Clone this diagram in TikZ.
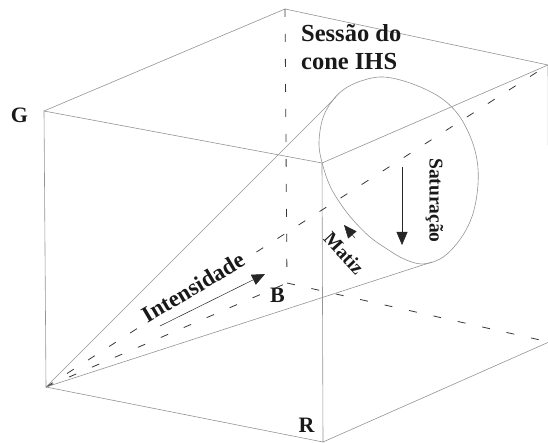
\documentclass[tikz,border=0pt]{standalone}
\usepackage{fontspec}
\setmainfont{Liberation Serif}
\usetikzlibrary{arrows.meta}
\begin{document}
\begin{tikzpicture}[x=1pt,y=-1pt,
  edge/.style={draw=black!42, line width=0.6pt},
  hidden/.style={draw=black!78, line width=0.8pt, dash pattern=on 8pt off 17pt},
  arrowline/.style={draw=black!85, line width=0.5pt, -{Triangle[width=11pt,length=13pt]}},
  lbl/.style={font=\bfseries\fontsize{22}{26}\selectfont, inner sep=0pt, text=black!90},
  axistext/.style={font=\bfseries\fontsize{19.5}{23}\selectfont, inner sep=0.5pt, text=black!90},
  titletext/.style={font=\bfseries\fontsize{24.5}{28}\selectfont, inner sep=0pt, text=black!90, anchor=base west}]
\useasboundingbox (0,0) rectangle (548,443);
\clip (0,0) rectangle (548,443);
% vertices
\coordinate (O) at (46,387);
\coordinate (G) at (44,111);
\coordinate (M) at (322,163);
\coordinate (R) at (323,442);
\coordinate (TBL) at (285,9);
\coordinate (TR) at (548,65);
\coordinate (BR) at (549,342);
\coordinate (B) at (287,283);
\coordinate (U) at (336,97);
\coordinate (L) at (432,262);
% visible cube edges
\draw[edge] (O) -- (G) -- (M) -- (R) -- cycle;
\draw[edge] (G) -- (TBL) -- (TR) -- (M);
\draw[edge] (R) -- (BR) -- (TR);
% hidden edges and main diagonal
\draw[hidden] (TBL) -- (B);
\draw[hidden] (O) -- (B);
\draw[hidden] (B) -- (BR);
\draw[hidden] (O) -- (TR);
% cone
\draw[edge] (O) -- (U);
\draw[edge] (O) -- (L);
\draw[edge] plot[smooth cycle, tension=0.6] coordinates {
  (383,77) (410,83) (438,96) (457,113) (470,136) (477,160) (478,184)
  (474,210) (466,230) (454,247) (440,259) (422,264) (404,259) (387,249)
  (370,237) (353,220) (340,203) (330,186) (323,166) (319,145) (322,121)
  (330,104) (343,90) (361,81)};
% arrows
\coordinate (i1) at (160,326);
\coordinate (i2) at (265,274);
\draw[arrowline] (i1) -- (i2);
\coordinate (s1) at (402,167);
\coordinate (s2) at (402,245);
\draw[arrowline] (s1) -- (s2);
\coordinate (m1) at (355,238);
\coordinate (m2) at (344,225);
\draw[arrowline] (m1) -- (m2);
% texts
\node[titletext] (t1) at (301,41.5) {Sessão do};
\node[titletext] (t2) at (301,70) {cone IHS};
\node[axistext, font=\bfseries\fontsize{23}{26}\selectfont, rotate=30.6, anchor=base, fill=white] (int) at (197,294) {Intensidade};
\node[axistext, rotate=-47] (mat) at (344,253) {Matiz};
\node[axistext, rotate=-90] (sat) at (434.5,200.5) {Saturação};
\node[lbl] (lG) at (19.5,115.5) {G};
\node[lbl] (lB) at (277.5,295) {B};
\node[lbl] (lR) at (306.5,425) {R};
\end{tikzpicture}
\end{document}
